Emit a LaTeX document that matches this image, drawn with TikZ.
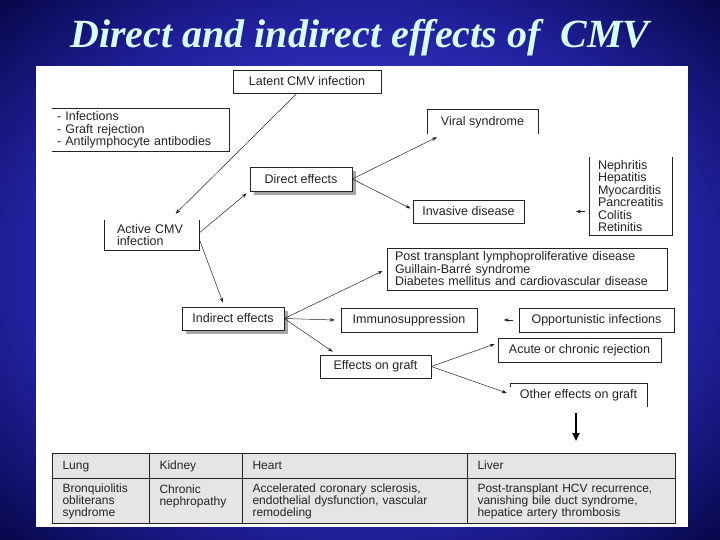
\documentclass[tikz,border=0pt]{standalone}
\usepackage{fontspec}
\setmainfont{Liberation Sans}
\newfontfamily\titlefont{Liberation Serif}
\newfontfamily\diagfont{Liberation Sans}
\usetikzlibrary{positioning,arrows.meta,shapes,shadows}

\definecolor{bgmid}{RGB}{56,56,205}
\definecolor{bgring}{RGB}{30,30,150}
\definecolor{bgedge}{RGB}{6,6,70}
\definecolor{titlecyan}{RGB}{215,255,255}
\definecolor{ink}{RGB}{35,35,35}
\pgfdeclareradialshading{slidebg}{\pgfpoint{0bp}{0bp}}{color(0bp)=(bgmid); color(13bp)=(bgmid); color(25bp)=(bgring); color(36bp)=(bgedge); color(50bp)=(bgedge)}

\newcommand\boxfont{\diagfont\fontsize{12.5}{12.5}\selectfont}
\newcommand\cellfont{\diagfont\fontsize{12}{12}\selectfont}

\begin{document}
\begin{tikzpicture}[x=1pt,y=-1pt,
    box/.style={rectangle,draw=ink,line width=0.6pt,fill=white,font=\boxfont,text=ink,inner sep=0pt},
    openbox/.style={rectangle,font=\boxfont,text=ink,inner sep=0pt},
    shadowbox/.style={box,drop shadow={shadow xshift=4pt,shadow yshift=-4pt,opacity=0.35,fill=black}},
    arr/.style={-{Stealth[length=5pt,width=3.5pt]},draw=ink,line width=0.5pt},
    bigarr/.style={-{Triangle[length=8pt,width=7pt]},draw=black,line width=2pt},
    cell/.style={rectangle,draw=ink,line width=1.1pt,fill=black!10,anchor=north west,inner xsep=10pt,inner ysep=0pt,align=left,text=ink,font=\cellfont},
    head/.style={cell,minimum height=25pt,text height=9pt,text depth=3pt}]

    % Slide
    \useasboundingbox (0,0) rectangle (720,540);
    \shade[shading=slidebg] (0,0) rectangle (720,540);
    \fill[white] (36,66) rectangle (688,527);
    \node[font=\titlefont\bfseries\itshape\fontsize{40}{40}\selectfont,text=titlecyan,anchor=base] (title) at (360,48) {Direct and indirect effects of\ \ CMV};

    % Infection
    \node[box,minimum width=148pt,minimum height=23pt] (latent) at (307,81.5) {Latent CMV infection};
    \node[openbox,text width=167pt,inner xsep=5pt,minimum height=42pt,align=left] (causes) at (140.5,130) {- Infections\\- Graft rejection\\- Antilymphocyte antibodies};
    \draw[ink,line width=0.6pt] (causes.north west) -- (causes.north east) -- (causes.south east) -- (causes.south west);
    \node[openbox,text width=69pt,inner xsep=13pt,minimum height=30pt,align=left] (active) at (151.5,235) {Active CMV\\infection};
    \draw[ink,line width=0.6pt] (active.north west) -- (active.south west) -- (active.south east) -- (active.north east);

    % Direct effects
    \node[shadowbox,minimum width=102pt,minimum height=24pt] (direct) at (301,179) {Direct effects};
    \node[openbox,minimum width=111pt,minimum height=24pt] (viral) at (482.5,122) {Viral syndrome};
    \draw[ink,line width=0.6pt] (viral.south west) -- (viral.north west) -- (viral.north east) -- (viral.south east);
    \node[box,minimum width=111pt,minimum height=23pt] (invasive) at (468.5,211.5) {Invasive disease};
    \node[openbox,text width=65pt,inner xsep=9pt,minimum height=78pt,align=left] (organs) at (630.5,196) {Nephritis\\Hepatitis\\Myocarditis\\Pancreatitis\\Colitis\\Retinitis};
    \draw[ink,line width=0.6pt] (organs.north west) -- (organs.south west) -- (organs.south east) -- (organs.north east);

    % Indirect effects
    \node[box,text width=264pt,inner xsep=8pt,minimum height=42pt,align=left] (ptld) at (527,269) {Post transplant lymphoproliferative disease\\Guillain-Barré syndrome\\Diabetes mellitus and cardiovascular disease};
    \node[shadowbox,minimum width=102pt,minimum height=23pt] (indirect) at (233,318.5) {Indirect effects};
    \node[box,minimum width=136pt,minimum height=24pt] (immuno) at (409,320) {Immunosuppression};
    \node[box,minimum width=155pt,minimum height=24pt] (opport) at (596.5,320) {Opportunistic infections};
    \node[box,minimum width=163pt,minimum height=24pt] (acute) at (579.5,350) {Acute or chronic rejection};
    \node[box,minimum width=111pt,minimum height=23pt] (graft) at (375.5,366.5) {Effects on graft};
    \node[openbox,minimum width=137pt,minimum height=24pt] (other) at (578.5,395) {Other effects on graft};
    \draw[ink,line width=0.6pt] ([yshift=-4pt]other.north west) -- (other.north west) -- (other.north east) -- (other.south east);

    % Table
    \node[head,text width=77pt] (lungH) at (52,453) {Lung};
    \node[head,text width=73pt] (kidneyH) at (149,453) {Kidney};
    \node[head,text width=205pt] (heartH) at (242,453) {Heart};
    \node[head,text width=188pt] (liverH) at (467,453) {Liver};
    \node[cell,text width=77pt,minimum height=45pt] (lungB) at (52,478) {Bronquiolitis\\obliterans\\syndrome};
    \node[cell,text width=73pt,minimum height=45pt] (kidneyB) at (149,478) {Chronic\\nephropathy\\\mbox{}};
    \node[cell,text width=205pt,minimum height=45pt] (heartB) at (242,478) {Accelerated coronary sclerosis,\\endothelial dysfunction, vascular\\remodeling};
    \node[cell,text width=188pt,minimum height=45pt] (liverB) at (467,478) {Post-transplant HCV recurrence,\\vanishing bile duct syndrome,\\hepatice artery thrombosis};

    % Connections
    \draw[arr] ([xshift=-10pt]latent.south) -- ([xshift=24pt,yshift=6pt]active.north);
    \draw[arr] ([yshift=2pt]active.east) -- ([xshift=-3pt,yshift=-2pt]direct.south west);
    \draw[arr] ([yshift=-4pt]active.east) -- ([xshift=-10pt,yshift=4pt]indirect.north);
    \draw[arr] (direct.east) -- ([xshift=10pt,yshift=-3pt]viral.south west);
    \draw[arr] (direct.east) -- ([xshift=-2pt,yshift=3pt]invasive.west);
    \draw[arr] ([xshift=-4pt]organs.west |- invasive.east) -- ++(-9,0);
    \draw[arr] (indirect.east) -- ([xshift=-4pt,yshift=-2pt]ptld.west);
    \draw[arr] (indirect.east) -- ([xshift=-6pt]immuno.west);
    \draw[arr] (indirect.east) -- ([xshift=13pt,yshift=3pt]graft.north west);
    \draw[arr] ([xshift=-6pt]opport.west) -- ++(-9,0);
    \draw[arr] (graft.east) -- ([xshift=-3pt,yshift=6pt]acute.west);
    \draw[arr] (graft.east) -- ([xshift=-3pt,yshift=2pt]other.west);
    \coordinate (bigtip) at (576,441);
    \draw[bigarr] ([xshift=-2.5pt,yshift=-6pt]other.south) -- (bigtip);
\end{tikzpicture}
\end{document}
